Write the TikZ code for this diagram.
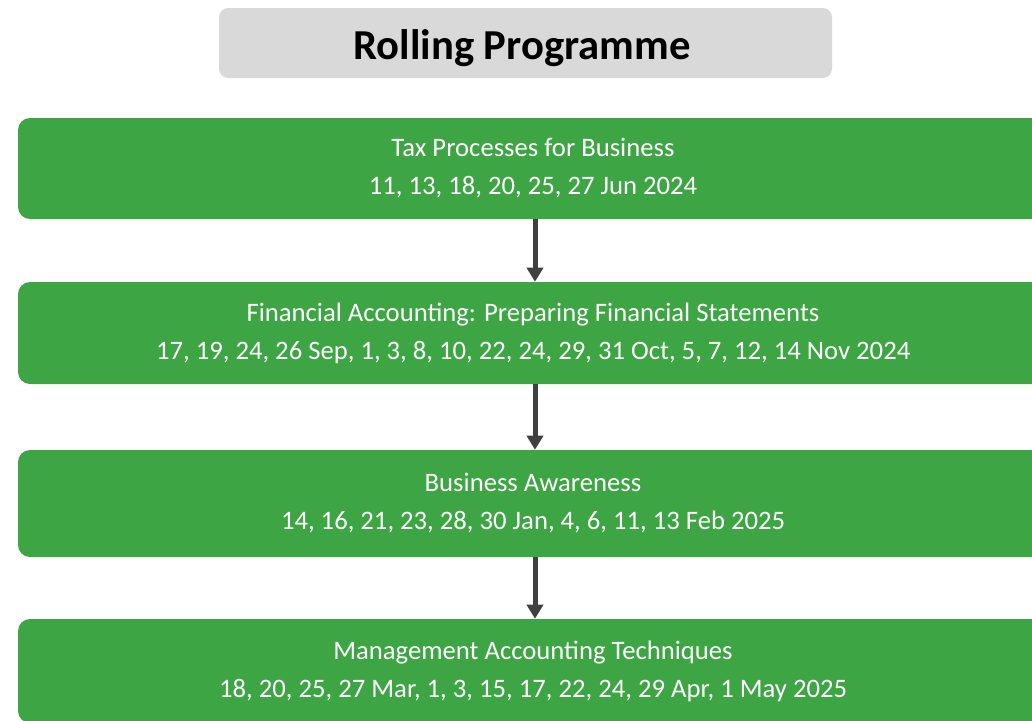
\documentclass[tikz,border=0pt]{standalone}
\usepackage{fontspec}
\setmainfont{Carlito}
\usetikzlibrary{arrows.meta}
\definecolor{boxgreen}{HTML}{3DA543}
\definecolor{titlegray}{HTML}{D9D9D9}
\definecolor{arrowgray}{HTML}{404040}
\tikzset{
  stagebox/.style={fill=boxgreen, draw=none, rounded corners=9pt, minimum width=772.5pt,
    text=white, align=center, font=\fontsize{20}{28.5}\selectfont, inner sep=0pt},
  titlebox/.style={fill=titlegray, draw=none, rounded corners=7pt, minimum width=459.75pt,
    minimum height=52.5pt, inner sep=0pt},
  flowarrow/.style={draw=arrowgray, line width=3.75pt, -{Triangle[width=12pt,length=10.5pt]}}
}
\begin{document}
\begin{tikzpicture}[x=0.75pt,y=-0.75pt]
\useasboundingbox (0,0) rectangle (1032,721);
\clip (0,0) rectangle (1032,721);
\node[titlebox] (title) at (525.5,43) {};
\node[font=\fontsize{32}{36}\selectfont\bfseries, inner sep=0pt] (titletext) at (522,48) {Rolling Programme};
\node[stagebox, minimum height=75.75pt] (s1) at (533,168.5) {Tax Processes for Business\\11, 13, 18, 20, 25, 27 Jun 2024};
\node[stagebox, minimum height=76.5pt] (s2) at (533,333) {Financial Accounting: Preparing Financial Statements\\17, 19, 24, 26 Sep, 1, 3, 8, 10, 22, 24, 29, 31 Oct, 5, 7, 12, 14 Nov 2024};
\node[stagebox, minimum height=80.25pt] (s3) at (533,503.5) {Business Awareness\\14, 16, 21, 23, 28, 30 Jan, 4, 6, 11, 13 Feb 2025};
\node[stagebox, minimum height=78pt] (s4) at (533,671) {Management Accounting Techniques\\18, 20, 25, 27 Mar, 1, 3, 15, 17, 22, 24, 29 Apr, 1 May 2025};
\draw[flowarrow] (s1.south -| 535,0) -- (s2.north -| 535,0);
\draw[flowarrow] (s2.south -| 535,0) -- (s3.north -| 535,0);
\draw[flowarrow] (s3.south -| 535,0) -- (s4.north -| 535,0);
\end{tikzpicture}
\end{document}
